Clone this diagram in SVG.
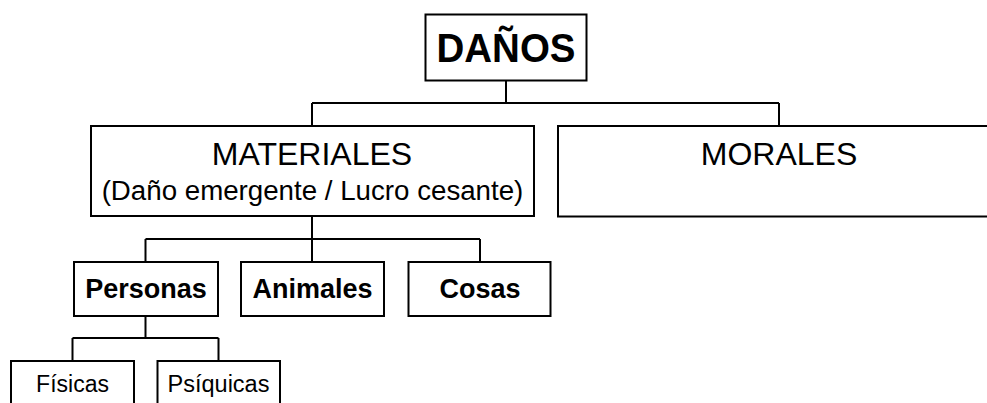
<svg xmlns="http://www.w3.org/2000/svg" width="987" height="403" viewBox="0 0 987 403">
<style>
.box{fill:#fff;stroke:#000;stroke-width:2}
.con{fill:none;stroke:#000;stroke-width:2}
text{font-family:"Liberation Sans",Arial,sans-serif;fill:#000;text-anchor:middle}
.b{font-weight:bold}
</style>
<rect width="987" height="403" fill="#fff"/>
<g id="connectors" class="con">
<path d="M506,80 V103 M312,103 H779 M312,103 V126 M779,103 V126"/>
<path d="M312,216 V239 M145.5,239 H480 M145.5,239 V262 M312,239 V262 M480,239 V262"/>
<path d="M145.5,316 V338 M72.5,338 H218.5 M72.5,338 V361 M218.5,338 V361"/>
</g>
<g id="danos">
<rect class="box" x="425.5" y="14.5" width="161" height="66"/>
<text class="b" x="506" y="62" font-size="41" textLength="139" lengthAdjust="spacingAndGlyphs">DAÑOS</text>
</g>
<g id="materiales">
<rect class="box" x="91" y="126" width="443" height="90"/>
<text x="312" y="165" font-size="32">MATERIALES</text>
<text x="312.5" y="200" font-size="27.7">(Daño emergente / Lucro cesante)</text>
</g>
<g id="morales">
<rect class="box" x="558" y="126" width="445" height="90.5"/>
<text x="779" y="165" font-size="32">MORALES</text>
</g>
<g id="personas">
<rect class="box" x="74" y="262" width="144" height="54"/>
<text class="b" x="146" y="297.5" font-size="27">Personas</text>
</g>
<g id="animales">
<rect class="box" x="241" y="262" width="143" height="54"/>
<text class="b" x="312.5" y="297.5" font-size="27">Animales</text>
</g>
<g id="cosas">
<rect class="box" x="408.5" y="262" width="142" height="54"/>
<text class="b" x="480" y="297.5" font-size="27">Cosas</text>
</g>
<g id="fisicas">
<rect class="box" x="11" y="361" width="123" height="60"/>
<text x="72.5" y="391.5" font-size="23">Físicas</text>
</g>
<g id="psiquicas">
<rect class="box" x="157.5" y="361" width="122.5" height="60"/>
<text x="218.5" y="391.5" font-size="23.5">Psíquicas</text>
</g>
</svg>
